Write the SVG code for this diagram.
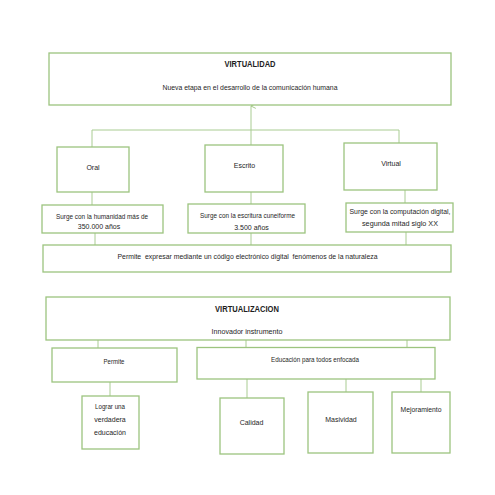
<svg xmlns="http://www.w3.org/2000/svg" width="495" height="495" viewBox="0 0 495 495">
<style>
.b{fill:#fff;stroke:#9cc47f;stroke-width:1.3}
.c{stroke:#a9cc92;stroke-width:1;fill:none}
text{font-family:"Liberation Sans",Arial,sans-serif;fill:#1e1e1e;text-anchor:middle;font-size:7px}
.t{font-weight:bold;font-size:8.5px}
</style>
<defs>
<marker id="ar" viewBox="0 0 10 10" refX="5" refY="1" markerWidth="6" markerHeight="6" orient="auto-start-reverse" markerUnits="userSpaceOnUse">
<path d="M1,9 L5,1 L9,9" fill="none" stroke="#9cc47f" stroke-width="1.5"/>
</marker>
</defs>
<rect width="495" height="495" fill="#fff"/>
<g id="connectors">
<line class="c" x1="251" y1="130" x2="251" y2="106" marker-end="url(#ar)"/>
<line class="c" x1="92" y1="130" x2="399" y2="130"/>
<line class="c" x1="92" y1="130" x2="92" y2="147"/>
<line class="c" x1="251" y1="130" x2="251" y2="245"/>
<line class="c" x1="399" y1="130" x2="399" y2="143"/>
<line class="c" x1="92" y1="192" x2="92" y2="205"/>
<line class="c" x1="405" y1="190" x2="405" y2="203"/>
<line class="c" x1="95" y1="233" x2="95" y2="245"/>
<line class="c" x1="406" y1="232" x2="406" y2="245"/>
<line class="c" x1="98" y1="340" x2="98" y2="348"/>
<line class="c" x1="246" y1="340" x2="246" y2="348"/>
<line class="c" x1="407" y1="340" x2="407" y2="348"/>
<line class="c" x1="110" y1="382" x2="110" y2="396"/>
<line class="c" x1="247" y1="379" x2="247" y2="398"/>
<line class="c" x1="346" y1="379" x2="346" y2="392"/>
<line class="c" x1="421" y1="379" x2="421" y2="392"/>
</g>
<g id="virtualidad">
<rect class="b" x="49" y="53" width="402" height="52"/>
<text class="t" x="250" y="67" textLength="51" lengthAdjust="spacingAndGlyphs">VIRTUALIDAD</text>
<text x="250" y="89.5" textLength="175" lengthAdjust="spacingAndGlyphs">Nueva etapa en el desarrollo de la comunicación humana</text>
</g>
<g id="oral">
<rect class="b" x="57" y="147" width="72" height="45"/>
<text x="93" y="169.5">Oral</text>
</g>
<g id="escrito">
<rect class="b" x="205" y="145" width="78" height="47"/>
<text x="244.5" y="168">Escrito</text>
</g>
<g id="virtual">
<rect class="b" x="344" y="143" width="93" height="47"/>
<text x="391" y="165.5">Virtual</text>
</g>
<g id="surge1">
<rect class="b" x="42" y="205" width="121" height="28"/>
<text x="102" y="218.5" textLength="92" lengthAdjust="spacingAndGlyphs">Surge con la humanidad más de</text>
<text x="99" y="228.5">350.000 años</text>
</g>
<g id="surge2">
<rect class="b" x="188" y="204" width="117" height="29"/>
<text x="247.5" y="218" textLength="95" lengthAdjust="spacingAndGlyphs">Surge con la escritura cuneiforme</text>
<text x="251.5" y="229.5">3.500 años</text>
</g>
<g id="surge3">
<rect class="b" x="346" y="203" width="107" height="29"/>
<text x="400" y="213.5" textLength="101" lengthAdjust="spacingAndGlyphs">Surge con la computación digital,</text>
<text x="400" y="225.5" textLength="76" lengthAdjust="spacingAndGlyphs">segunda mitad siglo XX</text>
</g>
<g id="permite-expresar">
<rect class="b" x="43" y="245" width="408" height="27"/>
<text x="247.5" y="258.5" textLength="260" lengthAdjust="spacingAndGlyphs" xml:space="preserve">Permite  expresar mediante un código electrónico digital  fenómenos de la naturaleza</text>
</g>
<g id="virtualizacion">
<rect class="b" x="46" y="297" width="404" height="43"/>
<text class="t" x="247" y="312" textLength="64" lengthAdjust="spacingAndGlyphs">VIRTUALIZACION</text>
<text x="247" y="333.5" textLength="71" lengthAdjust="spacingAndGlyphs">Innovador instrumento</text>
</g>
<g id="permite">
<rect class="b" x="52" y="348" width="125" height="34"/>
<text x="114" y="363.5" font-size="6.5" textLength="21" lengthAdjust="spacingAndGlyphs">Permite</text>
</g>
<g id="educacion">
<rect class="b" x="197" y="347.5" width="238" height="31.5"/>
<text x="315" y="361.5" textLength="88" lengthAdjust="spacingAndGlyphs">Educación para todos enfocada</text>
</g>
<g id="lograr">
<rect class="b" x="82" y="396" width="57" height="53"/>
<text x="110" y="409" textLength="30" lengthAdjust="spacingAndGlyphs">Lograr una</text>
<text x="110" y="422">verdadera</text>
<text x="110" y="434.5">educación</text>
</g>
<g id="calidad">
<rect class="b" x="220" y="398" width="64" height="56"/>
<text x="251.5" y="424.5">Calidad</text>
</g>
<g id="masividad">
<rect class="b" x="308" y="392" width="65" height="61"/>
<text x="341" y="422">Masividad</text>
</g>
<g id="mejoramiento">
<rect class="b" x="392" y="392" width="58" height="61"/>
<text x="421" y="411.5" textLength="41" lengthAdjust="spacingAndGlyphs">Mejoramiento</text>
</g>
</svg>
